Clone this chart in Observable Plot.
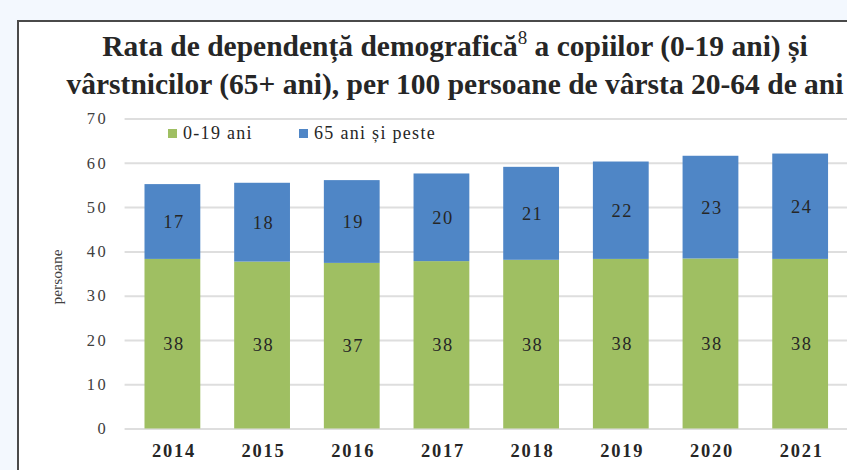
<!DOCTYPE html>
<html>
<head>
<meta charset="utf-8">
<script src="https://cdn.jsdelivr.net/npm/d3@7"></script>
<script src="https://cdn.jsdelivr.net/npm/@observablehq/plot@0.6"></script>
<style>
  html, body { margin:0; padding:0; width:847px; height:470px; overflow:hidden; background:#f3f8fe; }
  #frame { position:absolute; left:17px; top:20px; width:900px; height:520px; background:#fff; border:2px solid #4a4a4a; box-sizing:border-box; }
  #title { position:absolute; left:0; top:29px; width:910px; text-align:center; font-family:"Liberation Serif", serif; font-weight:bold; font-size:29.5px; line-height:35px; color:#262626; white-space:nowrap; }
  #title sup { font-size:19px; font-weight:normal; vertical-align:baseline; position:relative; top:-12px; }
  #chart { position:absolute; left:0; top:0; }
  #chart svg text { font-family:"Liberation Serif", serif; }
  #chart g[aria-label="y-axis tick label"] text { letter-spacing:2.5px; }
  #chart g[aria-label="x-axis tick label"] text { letter-spacing:1.8px; }
  #chart g[aria-label="text"] text { letter-spacing:1.5px; }
  #ylabel { position:absolute; left:57px; top:277px; transform:translate(-50%,-50%) rotate(-90deg); font-family:"Liberation Serif", serif; font-size:15.5px; color:#404040; white-space:nowrap; }
  #legend { position:absolute; left:168px; top:124px; font-family:"Liberation Serif", serif; font-size:18px; letter-spacing:1.3px; color:#262626; white-space:nowrap; }
  .li { position:absolute; top:0; display:flex; align-items:center; gap:6px; line-height:18px; }
  .sw { width:9px; height:9px; display:inline-block; }
</style>
</head>
<body>
<div id="frame"></div>
<div id="title">Rata de dependență demografică<sup>8</sup> a copiilor (0-19 ani) și<br>vârstnicilor (65+ ani), per 100 persoane de vârsta 20-64 de ani</div>
<div id="chart"></div>
<div id="ylabel">persoane</div>
<div id="legend"></div>
<script>
const years = ["2014","2015","2016","2017","2018","2019","2020","2021"];
const children = [38.3, 37.7, 37.4, 37.8, 38.1, 38.3, 38.4, 38.3];
const elderly = [16.9, 17.8, 18.7, 19.8, 21.0, 22.0, 23.2, 23.8];
const groups = ["0-19 ani", "65 ani și peste"];
const colors = ["#9fbf62", "#4f86c6"];
const yTicks = [0, 10, 20, 30, 40, 50, 60, 70];

const data = years.flatMap((y, i) => [
  {year: y, group: groups[0], value: children[i]},
  {year: y, group: groups[1], value: elderly[i]}
]);

const chart = Plot.plot({
  width: 850,
  height: 470,
  marginTop: 119,
  marginBottom: 40,
  marginLeft: 125,
  marginRight: 0,
  style: {background: "transparent", fontFamily: "Liberation Serif", overflow: "visible"},
  x: {domain: years, paddingInner: 0.38, paddingOuter: 0.19, align: 0.5, axis: null},
  y: {domain: [0, 70], axis: null},
  color: {domain: groups, range: colors},
  marks: [
    Plot.gridY(yTicks, {stroke: "#dedede", strokeOpacity: 1, strokeWidth: 2}),
    Plot.barY(data, {x: "year", y: "value", fill: "group", z: "group"}),
    Plot.text(data, Plot.stackY({x: "year", y: "value", z: "group", text: d => String(Math.round(d.value)), fill: "#262626", fontSize: 18.5, dx: 1})),
    Plot.axisY(yTicks, {tickSize: 0, tickPadding: 17, fontSize: 16.5, fill: "#404040", label: null}),
    Plot.axisX({tickSize: 0, tickPadding: 15, fontSize: 18.5, fontWeight: "bold", fill: "#262626", label: null, dx: 1})
  ]
});
document.getElementById("chart").append(chart);

const legend = document.getElementById("legend");
const offsets = [0, 131];
groups.forEach((g, i) => {
  const item = document.createElement("div");
  item.className = "li";
  item.style.left = offsets[i] + "px";
  const sw = document.createElement("span");
  sw.className = "sw";
  sw.style.background = colors[i];
  const t = document.createElement("span");
  t.textContent = g;
  item.append(sw, t);
  legend.append(item);
});
</script>
</body>
</html>
